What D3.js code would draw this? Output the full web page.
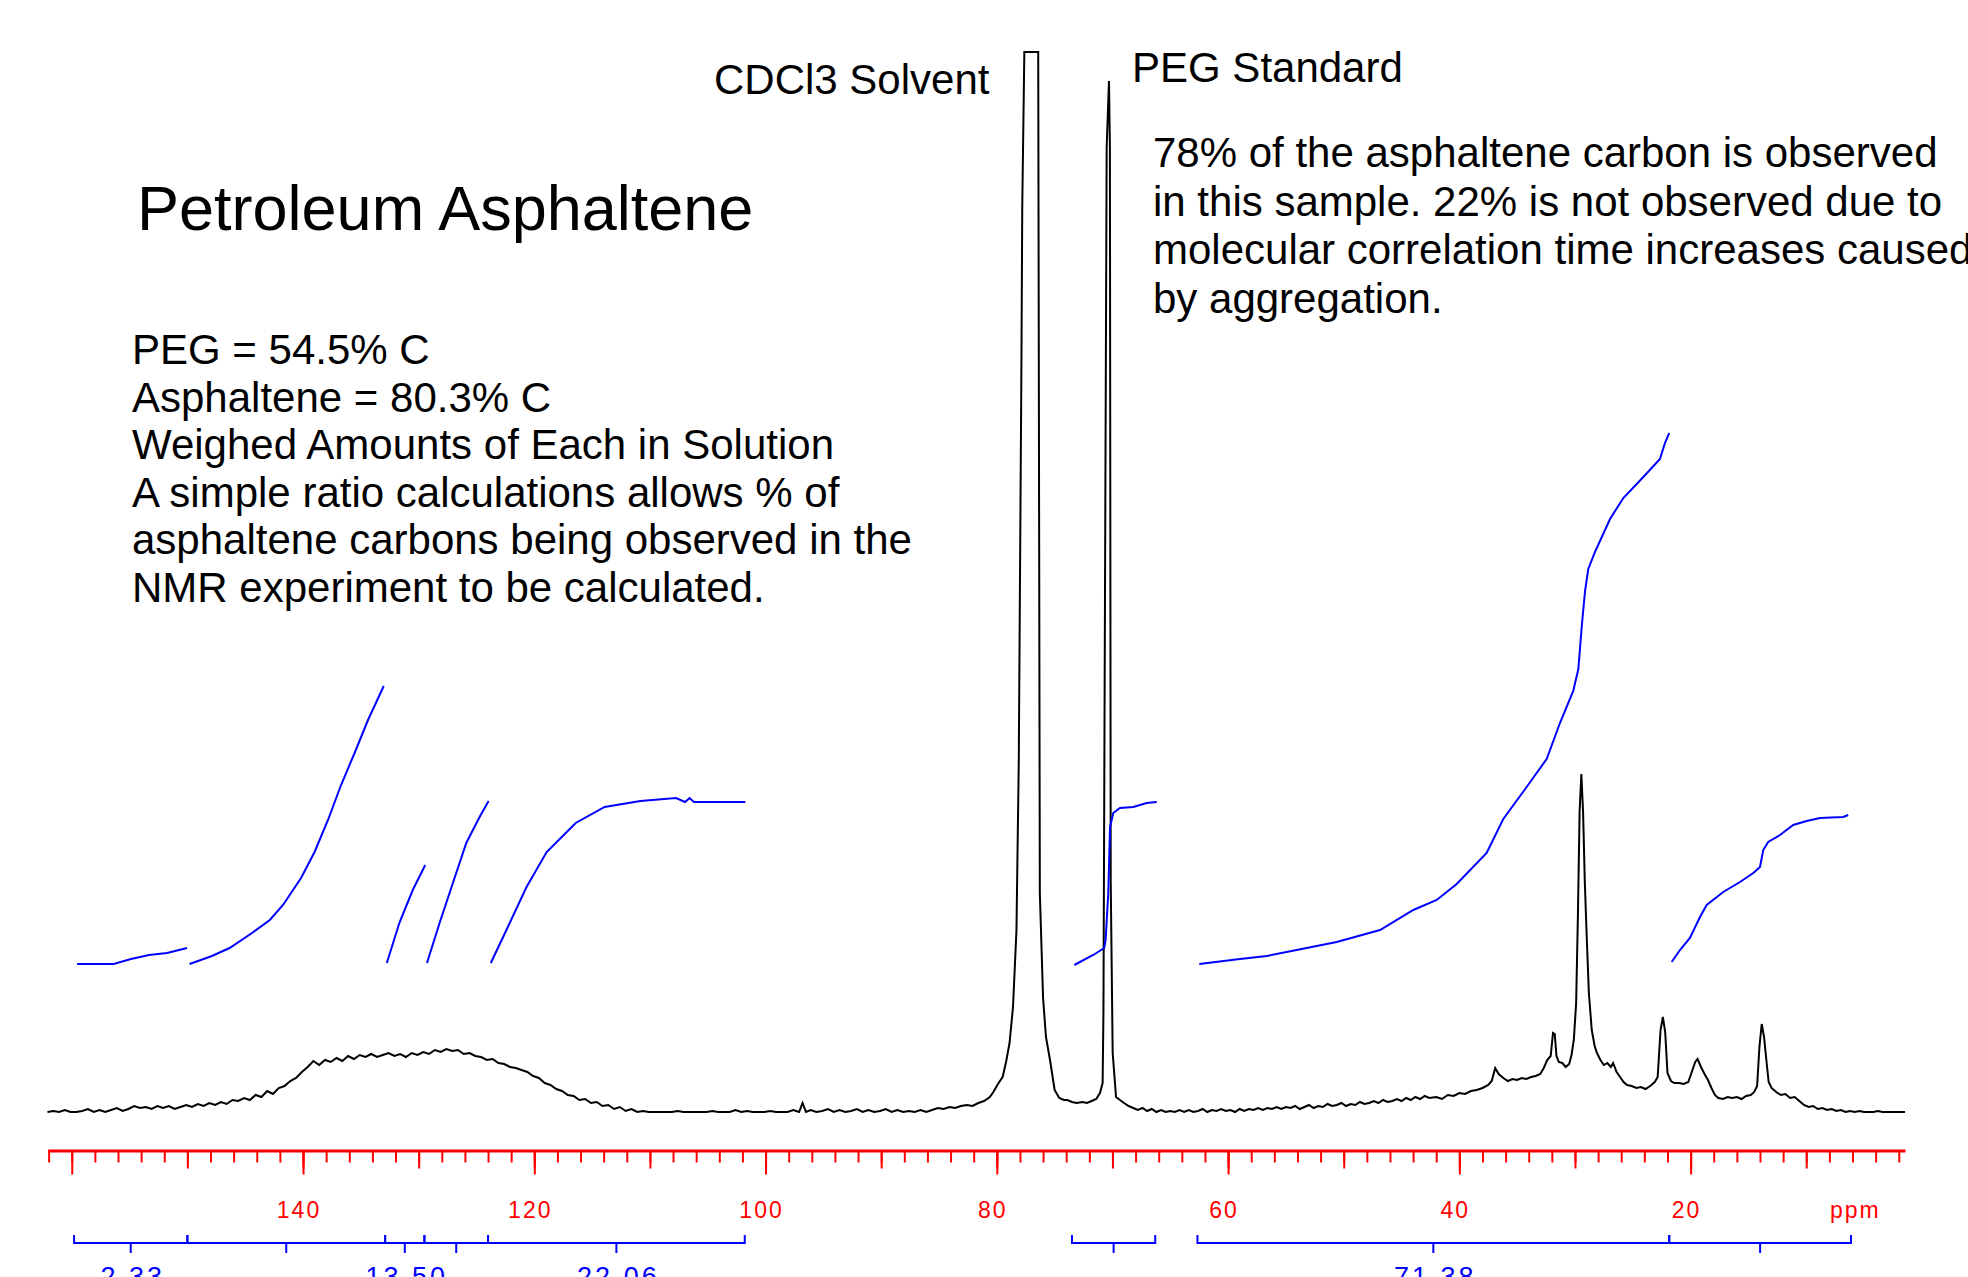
<!DOCTYPE html>
<html>
<head>
  <meta charset="UTF-8">
  <script src="https://cdn.jsdelivr.net/npm/d3@7"></script>
  <style>
    body { margin: 0; background: #fff; overflow: hidden; }
    svg { display: block; font-family: "Liberation Sans", Arial, sans-serif; }
  </style>
</head>
<body>
  <div id="chart"></div>
  <script>
    // 13C spectrum, [ppm, intensity]
    const spectrum = [
      [162.1,-3],[161.6,1],[161.1,-1],[160.6,2],[160.1,0],[159.6,-2],[159.1,1],[158.6,3],[158.1,0],[157.6,2],
      [157.1,-1],[156.6,2],[156.1,4],[155.6,1],[155.1,3],[154.6,6],[154.1,4],[153.6,5],[153.1,3],[152.6,6],
      [152.1,4],[151.6,6],[151.1,3],[150.6,5],[150.1,7],[149.6,5],[149.1,8],[148.6,6],[148.1,9],[147.6,7],
      [147.1,10],[146.6,8],[146.1,12],[145.6,11],[145.1,14],[144.6,12],[144.1,17],[143.6,15],[143.1,21],[142.6,18],
      [142.1,24],[141.6,26],[141.1,31],[140.6,34],[140.1,40],[139.6,45],[139.1,51],[138.6,47],[138.1,52],[137.6,50],
      [137.1,54],[136.6,51],[136.1,56],[135.6,53],[135.1,57],[134.6,55],[134.1,58],[133.6,55],[133.1,57],[132.6,59],
      [132.1,56],[131.6,58],[131.1,55],[130.6,59],[130.1,57],[129.6,60],[129.1,58],[128.6,62],[128.1,60],[127.6,63],
      [127.1,61],[126.6,62],[126.1,58],[125.6,59],[125.1,56],[124.6,55],[124.1,52],[123.6,53],[123.1,49],[122.6,48],
      [122.1,45],[121.6,44],[121.1,42],[120.6,40],[120.1,36],[119.6,34],[119.1,29],[118.6,27],[118.1,23],[117.6,21],
      [117.1,17],[116.6,16],[116.1,12],[115.6,13],[115.1,9],[114.6,10],[114.1,6],[113.6,7],[113.1,3],[112.6,5],
      [112.1,1],[111.6,3],[111.1,-1],[110.6,1],[110.1,-2],[109.6,0],[109.1,-3],[108.6,-1],[108.1,-2],[107.6,1],
      [107.1,-2],[106.6,0],[106.1,-3],[105.6,0],[105.1,-1],[104.6,1],[104.1,-2],[103.6,0],[103.1,-1],[102.6,2],
      [102.1,-1],[101.6,1],[101.1,-2],[100.6,0],[100.1,-1],[99.6,1],[99.1,-2],[98.6,0],[98.1,-1],[97.6,2],
      [97.1,0],[96.8,9],[96.5,-1],[96.1,2],[95.6,-1],[95.1,1],[94.6,3],[94.1,0],[93.6,2],[93.1,-1],
      [92.6,1],[92.1,3],[91.6,0],[91.1,2],[90.6,-1],[90.1,1],[89.6,3],[89.1,0],[88.6,2],[88.1,-1],
      [87.6,1],[87.1,0],[86.6,2],[86.1,-1],[85.6,2],[85.1,4],[84.6,3],[84.1,5],[83.6,4],[83.1,6],
      [82.6,7],[82.1,6],[81.6,9],[81.1,11],[80.6,15],[80.3,20],[79.9,28],[79.5,35],[79.2,50],[78.9,69],
      [78.6,105],[78.3,182],[78.1,352],[77.87,752],[77.8,905],[77.62,1100],[77.0,1400],[76.42,1100],[76.28,219],[76.0,114],
      [75.75,75],[75.4,52],[75.0,22],[74.6,14],[74.2,12],[73.9,12],[73.5,10],[73.1,9],[72.6,10],[72.2,9],
      [71.8,11],[71.4,13],[71.08,19],[70.85,29],[70.78,99],[70.5,965],[70.3,1031],[70.22,965],[70.15,230],[69.98,59],
      [69.69,15],[69.35,12],[69.0,9],[68.6,6],[68.2,4],[67.8,2],[67.4,4],[67.0,1],[66.6,3],[66.2,0],
      [65.8,2],[65.4,-1],[65.0,1],[64.6,-1],[64.2,2],[63.8,0],[63.4,2],[63.0,-1],[62.6,1],[62.2,3],
      [61.8,0],[61.4,2],[61.0,1],[60.6,3],[60.2,1],[59.8,2],[59.4,0],[59.0,3],[58.6,1],[58.2,3],
      [57.8,2],[57.4,4],[57.0,2],[56.6,4],[56.2,3],[55.8,5],[55.4,3],[55.0,5],[54.6,4],[54.2,6],
      [53.8,3],[53.4,5],[53.0,7],[52.6,4],[52.2,6],[51.8,5],[51.4,8],[51.0,6],[50.6,7],[50.2,9],
      [49.8,6],[49.4,8],[49.0,7],[48.6,10],[48.2,8],[47.8,9],[47.4,11],[47.0,9],[46.6,12],[46.2,10],
      [45.8,11],[45.4,13],[45.0,11],[44.6,14],[44.2,12],[43.8,15],[43.4,13],[43.0,16],[42.6,14],[42.0,15],
      [41.5,13],[41.0,17],[40.5,16],[40.0,19],[39.5,18],[39.0,21],[38.5,22],[38.0,24],[37.5,27],[37.2,31],
      [36.9,44],[36.6,38],[36.2,34],[35.8,31],[35.4,33],[35.0,32],[34.6,34],[34.2,33],[33.8,35],[33.4,36],
      [33.0,38],[32.7,44],[32.4,52],[32.1,56],[31.9,79],[31.75,78],[31.6,56],[31.4,50],[31.1,49],[30.8,45],
      [30.5,48],[30.3,57],[30.1,72],[29.9,109],[29.75,195],[29.6,300],[29.45,338],[29.3,300],[29.15,230],[29.0,180],
      [28.8,119],[28.55,82],[28.3,66],[28.1,59],[27.8,52],[27.5,47],[27.2,49],[26.9,45],[26.7,49],[26.4,40],
      [26.1,35],[25.8,30],[25.5,27],[25.1,26],[24.7,24],[24.3,25],[23.9,23],[23.5,26],[23.1,30],[22.85,35],
      [22.6,82],[22.4,95],[22.2,80],[22.0,39],[21.7,31],[21.4,29],[21.0,29],[20.6,28],[20.2,30],[19.9,40],
      [19.6,50],[19.4,53],[19.1,45],[18.8,38],[18.5,32],[18.2,24],[17.9,17],[17.6,14],[17.2,13],[16.8,15],
      [16.4,14],[16.0,15],[15.6,13],[15.2,16],[14.8,17],[14.5,20],[14.25,26],[14.05,65],[13.85,88],[13.65,75],
      [13.45,52],[13.25,30],[13.0,24],[12.6,20],[12.2,17],[11.8,18],[11.4,14],[11.0,15],[10.6,11],[10.2,7],
      [9.8,5],[9.4,6],[9.0,3],[8.6,4],[8.2,2],[7.8,3],[7.4,1],[7.0,2],[6.6,0],[6.2,1],
      [5.8,-1],[5.4,1],[5.0,-2],[4.6,0],[4.2,-1],[3.8,1],[3.4,-1],[3.0,0],[2.6,-2],[2.2,0],
      [1.8,-1],[1.46,-1]
    ];

    // integral traces, one per region, [ppm, height]
    const integralCurves = [
      [[159.54,148],[156.38,148],[154.87,153],[153.32,157],[151.76,159],[150.03,164]],
      [[149.81,148],[147.88,156],[146.35,164],[144.41,179],[142.87,192],[141.73,207],[140.17,234],
       [139.0,260],[137.84,292],[136.71,327],[135.54,359],[134.38,392],[133.02,426]],
      [[132.75,149],[131.67,189],[130.51,222],[129.43,247]],
      [[129.28,149],[128.19,189],[127.04,229],[125.88,269],[124.73,295],[123.95,311]],
      [[123.76,149],[122.41,182],[120.67,225],[118.93,260],[116.42,289],[113.92,305],[110.82,311],
       [107.74,314],[106.96,310],[106.57,314],[106.19,310],[101.75,310]],
      [[73.3,147],[71.66,157],[70.71,164],[70.59,172],[70.36,219],[70.21,285],[69.93,299],
       [69.35,304],[68.2,305],[67.04,309],[66.17,310]],
      [[62.49,148],[58.97,153],[56.66,156],[54.07,162],[50.61,170],[46.86,182],[43.98,202],
       [41.96,212],[40.23,228],[37.64,259],[36.2,293],[34.18,325],[32.45,353],[31.3,389],
       [30.15,421],[29.71,443],[29.42,485],[29.13,521],[28.85,543],[28.27,560],[26.97,593],
       [25.82,614],[24.09,635],[22.65,653],[22.22,669],[21.85,679]],
      [[21.64,150],[20.92,162],[20.06,174],[19.19,195],[18.61,207],[17.18,220],[15.73,230],
       [14.58,239],[14.0,245],[13.72,262],[13.29,270],[12.27,277],[11.13,287],[9.97,291],
       [8.81,294],[6.8,295],[6.37,297]]
    ];

    const integralRegions = [
      [159.8,150.0],[150.0,132.9],[132.9,129.5],[129.5,124.0],[124.0,101.8],
      [73.5,66.3],[62.65,21.85],[21.85,6.13]
    ];
    const integralValues = ['2.33', '', '13.50', '', '22.06', '', '71.38', ''];

    const tickLabels = [140, 120, 100, 80, 60, 40, 20];

    const titleText = 'Petroleum Asphaltene';
    const notesLeft = [
      'PEG = 54.5% C',
      'Asphaltene = 80.3% C',
      'Weighed Amounts of Each in Solution',
      'A simple ratio calculations allows % of',
      'asphaltene carbons being observed in the',
      'NMR experiment to be calculated.'
    ];
    const notesRight = [
      '78% of the asphaltene carbon is observed',
      'in this sample. 22% is not observed due to',
      'molecular correlation time increases caused',
      'by aggregation.'
    ];

    const W = 1968, H = 1277;
    const axisY = 1150.5;

    const svg = d3.select('#chart').append('svg')
      .attr('width', W)
      .attr('height', H);

    const x = d3.scaleLinear().domain([162.08, 1.46]).range([47.7, 1905]);
    const y = d3.scaleLinear().domain([0, 1060]).range([1112, 52]).clamp(true);

    const line = d3.line()
      .x(d => x(d[0]))
      .y(d => y(d[1]));

    // spectrum
    svg.append('path')
      .datum(spectrum)
      .attr('fill', 'none')
      .attr('stroke', '#000')
      .attr('stroke-width', 2)
      .attr('stroke-linejoin', 'miter')
      .attr('d', line);

    // integrals
    svg.selectAll('.integral')
      .data(integralCurves)
      .enter()
      .append('path')
      .attr('class', 'integral')
      .attr('fill', 'none')
      .attr('stroke', '#0000ff')
      .attr('stroke-width', 2)
      .attr('d', line);

    // ppm axis: minor / 10 / 20 ticks
    const axisG = svg.append('g')
      .attr('transform', `translate(0,${axisY})`)
      .attr('color', '#ff0000');

    const tickSets = [
      { values: d3.range(162, 1, -2), size: 12 },
      { values: d3.range(150, 1, -10), size: 18 },
      { values: d3.range(160, 1, -20), size: 24 }
    ];
    tickSets.forEach((t, i) => {
      const g = axisG.append('g')
        .call(d3.axisBottom(x).tickValues(t.values).tickSize(t.size).tickSizeOuter(0).tickFormat(''));
      g.selectAll('.tick line').attr('stroke-width', 2);
      if (i === 0) g.select('.domain').attr('stroke-width', 3);
      else g.select('.domain').remove();
    });

    axisG.selectAll('.label')
      .data(tickLabels)
      .enter()
      .append('text')
      .attr('class', 'label')
      .attr('x', d => x(d) - 4)
      .attr('y', 67.5)
      .attr('text-anchor', 'middle')
      .attr('fill', '#ff0000')
      .attr('font-size', 23)
      .attr('letter-spacing', 2)
      .text(d => d);

    axisG.append('text')
      .attr('x', 1830)
      .attr('y', 67.5)
      .attr('fill', '#ff0000')
      .attr('font-size', 23)
      .attr('letter-spacing', 2)
      .text('ppm');

    // integral brackets
    const brY = 1243;
    const br = svg.append('g')
      .attr('stroke', '#0000ff')
      .attr('stroke-width', 2)
      .attr('fill', 'none');
    integralRegions.forEach(r => {
      const a = x(r[0]), b = x(r[1]), m = x((r[0] + r[1]) / 2);
      br.append('path').attr('d', `M${a},${brY - 8}V${brY}H${b}V${brY - 8}M${m},${brY}V${brY + 10}`);
    });

    svg.selectAll('.intval')
      .data(integralRegions)
      .enter()
      .append('text')
      .attr('class', 'intval')
      .attr('x', (d, i) => x((d[0] + d[1]) / 2) + 2)
      .attr('y', 1286)
      .attr('text-anchor', 'middle')
      .attr('fill', '#0000ff')
      .attr('font-size', 27)
      .attr('letter-spacing', 3)
      .text((d, i) => integralValues[i]);

    // annotations
    svg.append('text')
      .attr('x', 137)
      .attr('y', 230)
      .attr('font-size', 63)
      .attr('fill', '#000')
      .text(titleText);

    svg.append('g').selectAll('text')
      .data(notesLeft)
      .enter()
      .append('text')
      .attr('x', 132)
      .attr('y', (d, i) => 364 + i * 47.6)
      .attr('font-size', 42)
      .attr('fill', '#000')
      .text(d => d);

    svg.append('g').selectAll('text')
      .data(notesRight)
      .enter()
      .append('text')
      .attr('x', 1153)
      .attr('y', (d, i) => 167 + i * 48.5)
      .attr('font-size', 42)
      .attr('fill', '#000')
      .text(d => d);

    svg.append('text')
      .attr('x', 714)
      .attr('y', 94)
      .attr('font-size', 42)
      .attr('fill', '#000')
      .text('CDCl3 Solvent');

    svg.append('text')
      .attr('x', 1132)
      .attr('y', 82)
      .attr('font-size', 42)
      .attr('fill', '#000')
      .text('PEG Standard');
  </script>
</body>
</html>
